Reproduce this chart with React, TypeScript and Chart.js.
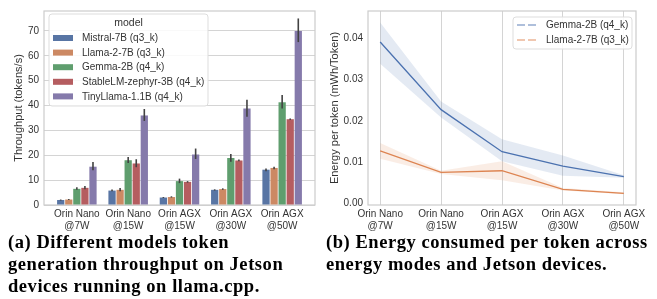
import React, { useEffect, useRef } from 'react';
import { Chart, registerables } from 'chart.js';
Chart.register(...registerables);

// ---------- data ----------
const CATEGORIES: string[][] = [
  ['Orin Nano', '@7W'],
  ['Orin Nano', '@15W'],
  ['Orin AGX', '@15W'],
  ['Orin AGX', '@30W'],
  ['Orin AGX', '@50W'],
];
const MODELS = [
  'Mistral-7B (q3_k)',
  'Llama-2-7B (q3_k)',
  'Gemma-2B (q4_k)',
  'StableLM-zephyr-3B (q4_k)',
  'TinyLlama-1.1B (q4_k)',
];
const MODEL_COLORS = ['#5875a4', '#cc8963', '#5f9e6e', '#b55d60', '#857aab'];

const MISTRAL = [2.0, 5.8, 3.0, 6.1, 14.2];
const LLAMA = [2.2, 6.1, 3.2, 6.4, 14.9];
const GEMMA = [6.5, 18.0, 9.6, 18.9, 41.3];
const STABLELM = [6.9, 16.7, 9.3, 17.9, 34.5];
const TINYLLAMA = [15.4, 36.0, 20.3, 38.8, 70.0];

const MISTRAL_LO = [1.8, 5.5, 2.8, 5.8, 13.6];
const MISTRAL_HI = [2.2, 6.2, 3.2, 6.3, 14.7];
const LLAMA_LO = [2.0, 5.5, 3.0, 6.1, 14.4];
const LLAMA_HI = [2.4, 6.8, 3.5, 6.7, 15.4];
const GEMMA_LO = [6.1, 16.9, 8.8, 17.4, 38.8];
const GEMMA_HI = [7.1, 19.3, 10.6, 20.5, 44.2];
const STABLELM_LO = [6.3, 15.2, 9.0, 17.6, 34.2];
const STABLELM_HI = [7.6, 18.4, 9.6, 18.3, 34.8];
const TINYLLAMA_LO = [14.0, 33.8, 18.5, 35.5, 65.5];
const TINYLLAMA_HI = [17.3, 38.6, 22.7, 42.3, 75.0];

const THROUGHPUT_TICKS = [0, 10, 20, 30, 40, 50, 60, 70];

const ENERGY_SERIES = ['Gemma-2B (q4_k)', 'Llama-2-7B (q3_k)'];
const ENERGY_COLORS = ['#4c72b0', '#dd8452'];
const GEMMA_ENERGY = [0.0391, 0.0227, 0.0125, 0.0090, 0.0065];
const GEMMA_ENERGY_LO = [0.0338, 0.0208, 0.0102, 0.0067, 0.0062];
const GEMMA_ENERGY_HI = [0.0438, 0.0247, 0.0155, 0.0116, 0.0068];
const LLAMA_ENERGY = [0.0127, 0.0075, 0.0079, 0.0034, 0.0024];
const LLAMA_ENERGY_LO = [0.0108, 0.0071, 0.0056, 0.0031, 0.0022];
const LLAMA_ENERGY_HI = [0.0146, 0.0079, 0.0102, 0.0037, 0.0027];
const ENERGY_TICKS = [0, 0.01, 0.02, 0.03, 0.04];

const CAPTION_A = ['(a) Different models token', 'generation throughput on Jetson', 'devices running on llama.cpp.'];
const CAPTION_B = ['(b) Energy consumed per token across', 'energy modes and Jetson devices.'];

// ---------- style ----------
const FONT = '"Liberation Sans", Arial, sans-serif';
const TEXT = '#333333';
const GRID = '#d4d4d4';
const FRAME = '#cccccc';

const framePlugin = {
  id: 'frame',
  beforeDatasetsDraw(chart: any) {
    const { ctx, chartArea: a } = chart;
    ctx.save();
    ctx.strokeStyle = FRAME;
    ctx.lineWidth = 1.2;
    ctx.strokeRect(a.left, a.top, a.right - a.left, a.bottom - a.top);
    ctx.restore();
  },
};

const errorBarPlugin = {
  id: 'errorBars',
  afterDatasetsDraw(chart: any, _args: any, opts: any) {
    const { ctx } = chart;
    const y = chart.scales.y;
    ctx.save();
    ctx.strokeStyle = '#424242';
    ctx.lineWidth = 1.6;
    chart.data.datasets.forEach((_ds: any, i: number) => {
      const meta = chart.getDatasetMeta(i);
      meta.data.forEach((el: any, j: number) => {
        const lo = opts.lo[i][j];
        const hi = opts.hi[i][j];
        ctx.beginPath();
        ctx.moveTo(el.x, y.getPixelForValue(lo));
        ctx.lineTo(el.x, y.getPixelForValue(hi));
        ctx.stroke();
      });
    });
    ctx.restore();
  },
};

function roundRect(ctx: CanvasRenderingContext2D, x: number, y: number, w: number, h: number, r: number) {
  ctx.beginPath();
  ctx.moveTo(x + r, y);
  ctx.lineTo(x + w - r, y);
  ctx.quadraticCurveTo(x + w, y, x + w, y + r);
  ctx.lineTo(x + w, y + h - r);
  ctx.quadraticCurveTo(x + w, y + h, x + w - r, y + h);
  ctx.lineTo(x + r, y + h);
  ctx.quadraticCurveTo(x, y + h, x, y + h - r);
  ctx.lineTo(x, y + r);
  ctx.quadraticCurveTo(x, y, x + r, y);
  ctx.closePath();
}

const barLegendPlugin = {
  id: 'barLegend',
  afterDraw(chart: any) {
    const { ctx, chartArea: a } = chart;
    const left = a.left + 5;
    const top = a.top + 3;
    const w = 159;
    const h = 92;
    ctx.save();
    roundRect(ctx, left, top, w, h, 3);
    ctx.fillStyle = 'rgba(255,255,255,0.85)';
    ctx.fill();
    ctx.strokeStyle = '#dddddd';
    ctx.lineWidth = 1;
    ctx.stroke();
    ctx.fillStyle = TEXT;
    ctx.font = `10.5px ${FONT}`;
    ctx.textBaseline = 'middle';
    ctx.textAlign = 'center';
    ctx.fillText('model', left + w / 2, top + 9);
    ctx.font = `10px ${FONT}`;
    ctx.textAlign = 'left';
    MODELS.forEach((m, i) => {
      const cy = top + 24 + i * 14.6;
      ctx.fillStyle = MODEL_COLORS[i];
      ctx.fillRect(left + 4, cy - 3, 20, 6);
      ctx.fillStyle = TEXT;
      ctx.fillText(m, left + 33, cy + 0.5);
    });
    ctx.restore();
  },
};

const lineLegendPlugin = {
  id: 'lineLegend',
  afterDraw(chart: any) {
    const { ctx, chartArea: a } = chart;
    const w = 119;
    const h = 32;
    const left = a.right - 4 - w;
    const top = a.top + 6;
    ctx.save();
    roundRect(ctx, left, top, w, h, 3);
    ctx.fillStyle = 'rgba(255,255,255,0.85)';
    ctx.fill();
    ctx.strokeStyle = '#dddddd';
    ctx.lineWidth = 1;
    ctx.stroke();
    ctx.font = `10px ${FONT}`;
    ctx.textBaseline = 'middle';
    ctx.textAlign = 'left';
    ENERGY_SERIES.forEach((s, i) => {
      const cy = top + 8 + i * 15;
      ctx.save();
      ctx.globalAlpha = 0.6;
      ctx.strokeStyle = ENERGY_COLORS[i];
      ctx.lineWidth = 1.4;
      ctx.setLineDash([8, 3]);
      ctx.beginPath();
      ctx.moveTo(left + 4, cy);
      ctx.lineTo(left + 24, cy);
      ctx.stroke();
      ctx.restore();
      ctx.fillStyle = TEXT;
      ctx.fillText(s, left + 33, cy + 0.5);
    });
    ctx.restore();
  },
};

const xTicks = {
  padding: 4,
  color: TEXT,
  font: { family: FONT, size: 10, lineHeight: 1.12 },
  maxRotation: 0,
  autoSkip: false,
  callback: (v: any) => CATEGORIES[v],
};

function ThroughputChart() {
  const ref = useRef<HTMLCanvasElement>(null);
  useEffect(() => {
    const series = [MISTRAL, LLAMA, GEMMA, STABLELM, TINYLLAMA];
    const chart = new Chart(ref.current!, {
      type: 'bar',
      data: {
        datasets: series.map((vals, i) => ({
          label: MODELS[i],
          data: vals.map((v, j) => ({ x: j, y: v })),
          backgroundColor: MODEL_COLORS[i],
          borderWidth: 0,
          barPercentage: 0.9,
          categoryPercentage: 0.786,
        })),
      },
      options: {
        animation: false,
        responsive: false,
        devicePixelRatio: 1,
        layout: { padding: { left: 0, right: 7, top: 5, bottom: 0 } },
        plugins: {
          legend: { display: false },
          tooltip: { enabled: false },
          errorBars: {
            lo: [MISTRAL_LO, LLAMA_LO, GEMMA_LO, STABLELM_LO, TINYLLAMA_LO],
            hi: [MISTRAL_HI, LLAMA_HI, GEMMA_HI, STABLELM_HI, TINYLLAMA_HI],
          },
        } as any,
        scales: {
          x: {
            type: 'linear',
            min: -0.64,
            max: 4.64,
            offset: false,
            grid: { display: false, drawTicks: false, offset: false },
            border: { display: false },
            afterBuildTicks: (s: any) => { s.ticks = CATEGORIES.map((_, i) => ({ value: i })); },
            afterFit: (s: any) => { s.height = 31; },
            ticks: xTicks,
          },
          y: {
            type: 'linear',
            min: 0,
            max: 78,
            grid: { color: GRID, lineWidth: 1, drawTicks: false },
            border: { display: false },
            afterBuildTicks: (s: any) => { s.ticks = THROUGHPUT_TICKS.map((v) => ({ value: v })); },
            afterFit: (s: any) => { s.width = 44; },
            ticks: { padding: 5, color: TEXT, font: { family: FONT, size: 10 } },
            title: {
              display: true,
              text: 'Throughput (tokens/s)',
              color: TEXT,
              font: { family: FONT, size: 11 },
              padding: { top: 12, bottom: 0 },
            },
          },
        },
      } as any,
      plugins: [framePlugin, errorBarPlugin, barLegendPlugin],
    });
    return () => chart.destroy();
  }, []);
  return <canvas ref={ref} width={322} height={236} style={{ position: 'absolute', left: 0, top: 0 }} />;
}

function EnergyChart() {
  const ref = useRef<HTMLCanvasElement>(null);
  useEffect(() => {
    const pts = (arr: number[]) => arr.map((v, j) => ({ x: j, y: v }));
    const band = (c: string) => c + '26';
    const chart = new Chart(ref.current!, {
      type: 'line',
      data: {
        datasets: [
          { data: pts(GEMMA_ENERGY_LO), borderWidth: 0, pointRadius: 0, fill: false, backgroundColor: band(ENERGY_COLORS[0]) },
          { data: pts(GEMMA_ENERGY_HI), borderWidth: 0, pointRadius: 0, fill: '-1', backgroundColor: band(ENERGY_COLORS[0]) },
          { data: pts(LLAMA_ENERGY_LO), borderWidth: 0, pointRadius: 0, fill: false, backgroundColor: band(ENERGY_COLORS[1]) },
          { data: pts(LLAMA_ENERGY_HI), borderWidth: 0, pointRadius: 0, fill: '-1', backgroundColor: band(ENERGY_COLORS[1]) },
          { label: ENERGY_SERIES[0], data: pts(GEMMA_ENERGY), borderColor: ENERGY_COLORS[0], borderWidth: 1.3, pointRadius: 0, fill: false },
          { label: ENERGY_SERIES[1], data: pts(LLAMA_ENERGY), borderColor: ENERGY_COLORS[1], borderWidth: 1.3, pointRadius: 0, fill: false },
        ],
      },
      options: {
        animation: false,
        responsive: false,
        devicePixelRatio: 1,
        layout: { padding: { left: 0, right: 21, top: 5, bottom: 0 } },
        plugins: { legend: { display: false }, tooltip: { enabled: false } },
        elements: { line: { tension: 0 } },
        scales: {
          x: {
            type: 'linear',
            min: -0.2,
            max: 4.2,
            grid: { color: GRID, lineWidth: 1, drawTicks: false },
            border: { display: false },
            afterBuildTicks: (s: any) => { s.ticks = CATEGORIES.map((_, i) => ({ value: i })); },
            afterFit: (s: any) => { s.height = 31; },
            ticks: xTicks,
          },
          y: {
            type: 'linear',
            min: -0.0004,
            max: 0.0466,
            grid: { display: false, drawTicks: false },
            border: { display: false },
            afterBuildTicks: (s: any) => { s.ticks = ENERGY_TICKS.map((v) => ({ value: v })); },
            afterFit: (s: any) => { s.width = 46; },
            ticks: {
              padding: 5,
              color: TEXT,
              font: { family: FONT, size: 10 },
              callback: (v: any) => Number(v).toFixed(2),
            },
            title: {
              display: true,
              text: 'Energy per token (mWh/Token)',
              color: TEXT,
              font: { family: FONT, size: 11 },
              padding: { top: 6, bottom: 0 },
            },
          },
        },
      } as any,
      plugins: [framePlugin, lineLegendPlugin],
    });
    return () => chart.destroy();
  }, []);
  return <canvas ref={ref} width={335} height={236} style={{ position: 'absolute', left: 322, top: 0 }} />;
}

const captionStyle: React.CSSProperties = {
  position: 'absolute',
  top: 231,
  font: 'bold 18.5px "Liberation Serif", "Times New Roman", serif',
  letterSpacing: '0.55px',
  lineHeight: '22px',
  color: '#000',
  whiteSpace: 'nowrap',
};

export default function App() {
  return (
    <div style={{ position: 'absolute', left: 0, top: 0, width: 657, height: 299, background: '#fff', overflow: 'hidden' }}>
      <ThroughputChart />
      <EnergyChart />
      <div style={{ ...captionStyle, left: 8 }}>
        {CAPTION_A.map((l) => <div key={l}>{l}</div>)}
      </div>
      <div style={{ ...captionStyle, left: 326 }}>
        {CAPTION_B.map((l) => <div key={l}>{l}</div>)}
      </div>
    </div>
  );
}
